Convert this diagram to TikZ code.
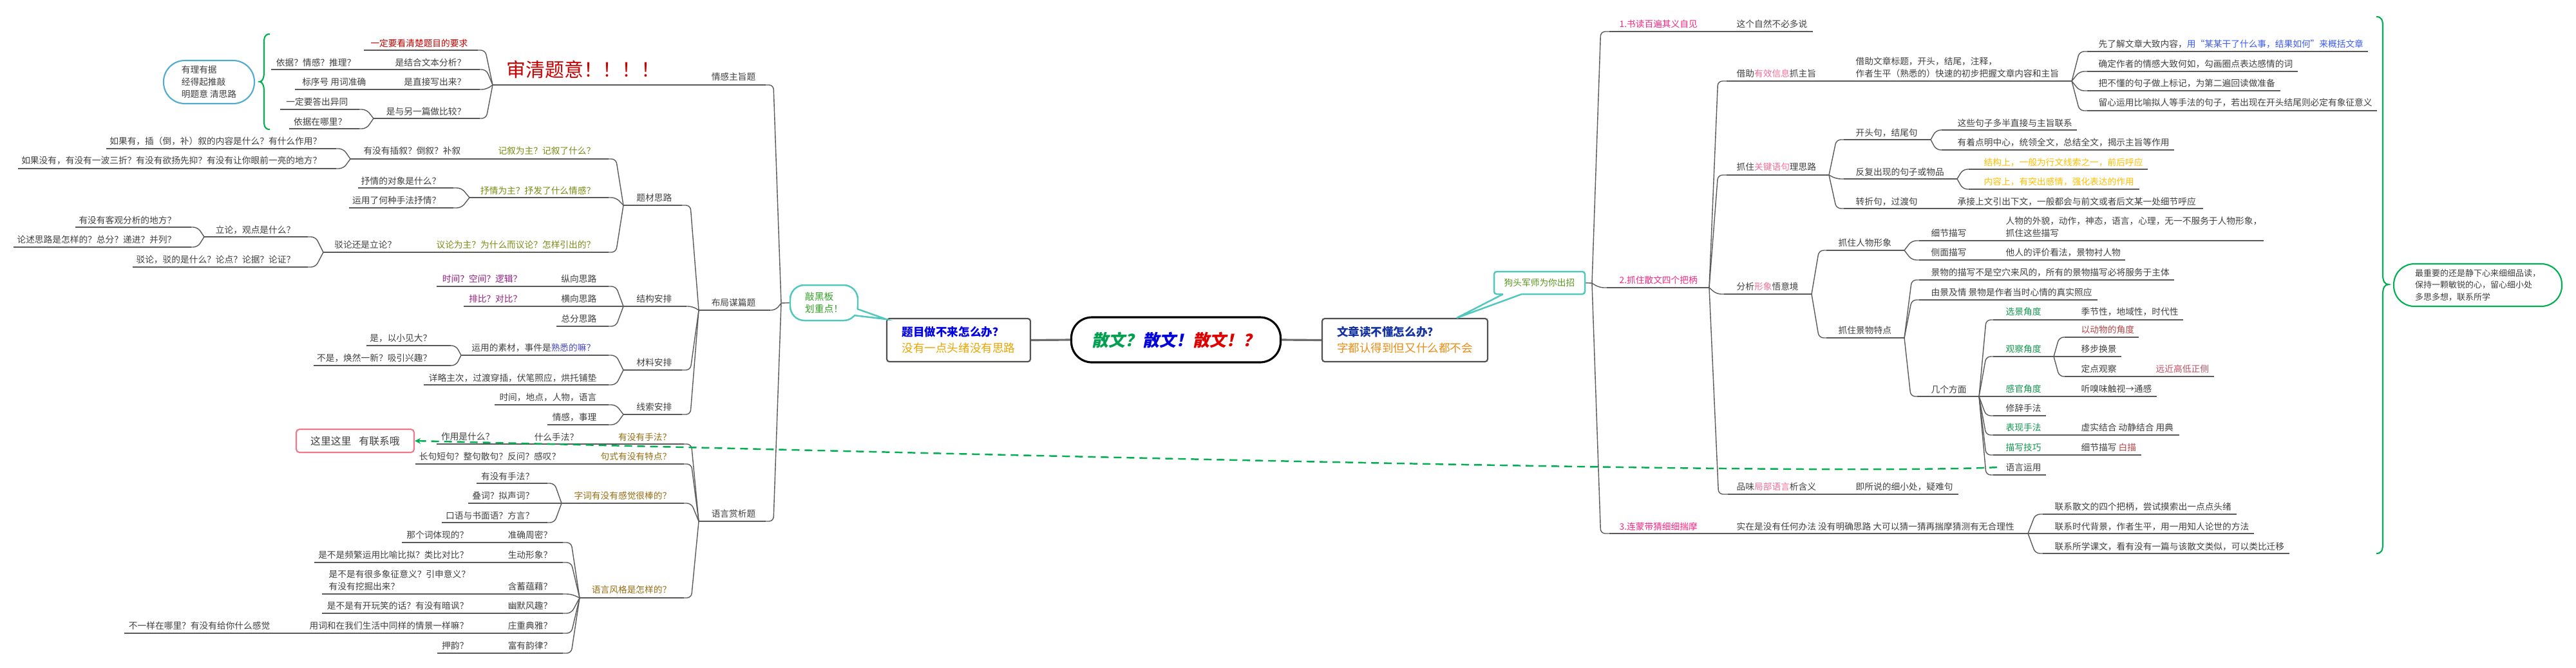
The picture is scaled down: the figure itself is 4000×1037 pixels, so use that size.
\documentclass[tikz,border=0pt]{standalone}
\usepackage{fontspec}
\setmainfont{Noto Sans CJK SC}
\newfontfamily\cjkslant[FakeSlant=0.2]{Noto Sans CJK SC}
\usetikzlibrary{calc,arrows.meta}
\definecolor{txt}{RGB}{64,64,64}
\definecolor{ln}{RGB}{90,90,90}
\definecolor{pinkA}{RGB}{245,40,130}
\definecolor{pinkB}{RGB}{245,110,150}
\definecolor{olive}{RGB}{120,140,20}
\definecolor{purp}{RGB}{150,30,130}
\definecolor{gold}{RGB}{150,110,20}
\definecolor{kgreen}{RGB}{20,150,80}
\definecolor{yel}{RGB}{255,190,0}
\definecolor{blueA}{RGB}{60,90,240}
\definecolor{blueB}{RGB}{70,70,190}
\definecolor{brred}{RGB}{180,70,70}
\definecolor{rosered}{RGB}{190,80,100}
\definecolor{redA}{RGB}{200,0,0}
\definecolor{tealB}{RGB}{80,200,190}
\definecolor{grn}{RGB}{0,176,80}
\definecolor{bubblue}{RGB}{80,170,210}
\definecolor{cgreen}{RGB}{0,160,80}
\definecolor{cblue}{RGB}{0,0,220}
\definecolor{cred}{RGB}{220,0,0}
\definecolor{qblue}{RGB}{0,0,230}
\definecolor{qorange}{RGB}{235,165,0}
\definecolor{wblue}{RGB}{20,50,160}
\definecolor{worange}{RGB}{235,140,20}
\definecolor{pinkbox}{RGB}{240,120,140}
\definecolor{bubgreen}{RGB}{50,160,40}
\definecolor{bubgreenB}{RGB}{90,150,30}
\definecolor{boxgray}{RGB}{80,80,80}
\definecolor{trunkgray}{RGB}{110,110,110}
\tikzset{
  conn/.style={draw=ln,line width=0.4pt,rounded corners=0.7mm},
  tx/.style={inner sep=0pt,text=txt,font=\fontsize{3.9}{5.4}\selectfont},
  qbox/.style={draw=boxgray,line width=0.6pt,rounded corners=0.4mm,fill=white,inner sep=0pt,align=left,font=\fontsize{5}{7.1}\selectfont},
  trunk/.style={draw=trunkgray,line width=0.9pt},
  relline/.style={draw=grn,line width=0.7pt,dash pattern=on 1.2mm off 0.8mm},
  bracestyle/.style={draw=grn,line width=0.6pt},
}
\newcommand\topic[4]{\coordinate (#1-s) at (#2,#4);\coordinate (#1-e) at (#3,#4);\draw[conn] (#1-s) -- (#1-e);}
\newcommand\link[2]{\draw[conn] let \p1=(#1-e),\p2=(#2-s) in (\p1) -- ({0.5*\x1+0.5*\x2},\y2) -- (\p2);}
\newcommand\tR[5][]{\node[tx,anchor=west,#1] (#2) at (#3,#4) {#5};}
\newcommand\tL[5][]{\node[tx,anchor=east,#1] (#2) at (#3,#4) {#5};}
\begin{document}
\begin{tikzpicture}[x=0.1mm,y=-0.1mm]
\fill[white] (0,0) rectangle (4000,1037);
\useasboundingbox (0,0) rectangle (4000,1037);

% ---------------- centre ----------------
\node[draw=black,line width=0.9pt,rounded corners=3.2mm,minimum width=32.5mm,minimum height=7mm,inner sep=0pt,fill=white,font=\fontsize{7.4}{8}\selectfont\cjkslant\bfseries] (root) at (1826,528) {\textcolor{cgreen}{散文？}\textcolor{cblue}{散文！}\textcolor{cred}{散文！？}};
\node[qbox,minimum width=22.3mm,minimum height=6.7mm] (lq) at (1488.5,528.5) {\textcolor{qblue}{\bfseries 题目做不来怎么办？}\\\textcolor{qorange}{没有一点头绪没有思路}};
\node[qbox,minimum width=25.7mm,minimum height=6.7mm] (rq) at (2181.5,528.5) {\textcolor{wblue}{\bfseries 文章读不懂怎么办？}\\\textcolor{worange}{字都认得到但又什么都不会}};
\draw[trunk] (root.west) -- (lq.east);
\draw[trunk] (root.east) -- (rq.west);

% left callout
\node[draw=tealB,line width=0.7pt,rounded corners=2.2mm,minimum width=10.5mm,minimum height=5.5mm,fill=white,inner sep=0pt,align=left,text=bubgreen,font=\fontsize{4.2}{5.2}\selectfont] (qhb) at (1279.5,470.5) {敲黑板\\划重点！};
\fill[white] (1331,480) -- (1376,496) -- (1326,490) -- (1320,484) -- cycle;
\draw[tealB,line width=0.7pt] (1331,480) -- (1376,496) -- (1326,490);
% right callout
\node[draw=tealB,line width=0.7pt,rounded corners=0.4mm,minimum width=14.1mm,minimum height=3.5mm,fill=white,inner sep=0pt,text=bubgreenB,font=\fontsize{3.9}{5}\selectfont] (gtjs) at (2390.5,439.5) {狗头军师为你出招};
\fill[white] (2334,454) -- (2333,459) -- (2262,494) -- (2363,459) -- (2363,454) -- cycle;
\draw[tealB,line width=0.7pt] (2334,457) -- (2262,494) -- (2363,457);

% ---------------- left side ----------------
\coordinate (LF-e) at (1213,471);
\draw[conn] (LF-e) -- (qhb.west);
\topic{A1}{1189}{765}{132} \link{LF}{A1} \tL{t-A1}{1174}{119}{情感主旨题}
\node[inner sep=0pt,text=redA,font=\fontsize{8.5}{9}\selectfont] (sqty) at (906,108) {审清题意！！！！};
\topic{a11}{742}{565}{78} \link{A1}{a11} \tL[text=redA]{t-a11}{727}{67}{一定要看清楚题目的要求}
\topic{a12}{745}{600}{108} \link{A1}{a12} \tL{t-a12}{724}{97}{是结合文本分析？}
\topic{a121}{600}{421}{108} \tL{t-a121}{553}{97}{依据？情感？推理？}
\topic{a13}{745}{600}{139} \link{A1}{a13} \tL{t-a13}{724}{127}{是直接写出来？}
\topic{a131}{600}{458}{139} \tL{t-a131}{569}{127}{标序号 用词准确}
\topic{a14}{745}{580}{184} \link{A1}{a14} \tL{t-a14}{724}{173}{是与另一篇做比较？}
\topic{a141}{558}{435}{170} \link{a14}{a141} \tL{t-a141}{541}{158}{一定要答出异同}
\topic{a142}{558}{449}{200} \link{a14}{a142} \tL{t-a142}{539}{189}{依据在哪里？}

\node[draw=bubblue,line width=0.6pt,rounded corners=3.3mm,minimum width=14.1mm,minimum height=6.7mm,inner sep=0pt,align=left,text=txt,font=\fontsize{3.9}{5.4}\selectfont] (lyj) at (324.5,127.5) {有理有据\\经得起推敲\\明题意 清思路};
\draw[bracestyle] (419,53) .. controls (411,53) and (410,58) .. (410,68) -- (410,112) .. controls (410,122) and (407,127) .. (403,127) .. controls (407,127) and (410,132) .. (410,142) -- (410,186) .. controls (410,196) and (411,201) .. (419,201);

\topic{A2}{1196}{1085}{482} \link{LF}{A2} \tL{t-A2}{1174}{470}{布局谋篇题}
\topic{A21}{1059}{968}{319} \link{A2}{A21} \tL{t-A21}{1044}{307}{题材思路}
\topic{b1}{945}{740}{247} \link{A21}{b1} \tL[text=olive]{t-b1}{925}{234}{记叙为主？记叙了什么？}
\topic{b11}{740}{544}{247} \tL{t-b11}{716}{234}{有没有插叙？倒叙？补叙}
\topic{b111}{522}{165}{231} \link{b11}{b111} \tL{t-b111}{500}{219}{如果有，插（倒，补）叙的内容是什么？有什么作用？}
\topic{b112}{522}{28}{262} \link{b11}{b112} \tL{t-b112}{500}{249}{如果没有，有没有一波三折？有没有欲扬先抑？有没有让你眼前一亮的地方？}
\topic{b2}{945}{729}{307} \link{A21}{b2} \tL[text=olive]{t-b2}{925}{296}{抒情为主？抒发了什么情感？}
\topic{b21}{704}{556}{292} \link{b2}{b21} \tL{t-b21}{685}{281}{抒情的对象是什么？}
\topic{b22}{704}{542}{323} \link{b2}{b22} \tL{t-b22}{685}{311}{运用了何种手法抒情？}
\topic{b3}{945}{640}{392} \link{A21}{b3} \tL[text=olive]{t-b3}{925}{380}{议论为主？为什么而议论？怎样引出的？}
\topic{b31}{640}{502}{392} \tL{t-b31}{616}{380}{驳论还是立论？}
\topic{b311}{478}{317}{368} \link{b31}{b311} \tL{t-b311}{459}{357}{立论，观点是什么？}
\topic{b3111}{297}{117}{353} \link{b311}{b3111} \tL{t-b3111}{274}{342}{有没有客观分析的地方？}
\topic{b3112}{297}{21}{384} \link{b311}{b3112} \tL{t-b3112}{274}{372}{论述思路是怎样的？总分？递进？并列？}
\topic{b312}{478}{206}{415} \link{b31}{b312} \tL{t-b312}{459}{403}{驳论，驳的是什么？论点？论据？论证？}

\topic{A22}{1066}{968}{476} \link{A2}{A22} \tL{t-A22}{1044}{464}{结构安排}
\topic{c1}{945}{840}{445} \link{A22}{c1} \tL{t-c1}{927}{433}{纵向思路}
\topic{c11}{840}{678}{445} \tL[text=purp]{t-c11}{811}{433}{时间？空间？逻辑？}
\topic{c2}{968}{840}{476} \tL{t-c2}{927}{464}{横向思路}
\topic{c21}{840}{720}{476} \tL[text=purp]{t-c21}{811}{464}{排比？对比？}
\topic{c3}{945}{864}{507} \link{A22}{c3} \tL{t-c3}{927}{495}{总分思路}

\topic{A23}{1059}{968}{575} \link{A2}{A23} \tL{t-A23}{1044}{563}{材料安排}
\topic{d1}{945}{716}{552} \link{A23}{d1} \tL{t-d1}{925}{540}{运用的素材，事件是\textcolor{blueB}{熟悉的嘛？}}
\topic{d11}{700}{569}{537} \link{d1}{d11} \tL{t-d11}{671}{525}{是，以小见大？}
\topic{d12}{700}{487}{568} \link{d1}{d12} \tL{t-d12}{671}{556}{不是，焕然一新？吸引兴趣？}
\topic{d2}{945}{658}{598} \link{A23}{d2} \tL{t-d2}{927}{587}{详略主次，过渡穿插，伏笔照应，烘托铺垫}

\topic{A24}{1059}{968}{644} \link{A2}{A24} \tL{t-A24}{1044}{632}{线索安排}
\topic{e1}{945}{768}{629} \link{A24}{e1} \tL{t-e1}{927}{617}{时间，地点，人物，语言}
\topic{e2}{945}{850}{660} \link{A24}{e2} \tL{t-e2}{927}{648}{情感，事理}

\topic{A3}{1189}{1085}{810} \link{LF}{A3} \tL{t-A3}{1174}{798}{语言赏析题}
\topic{f1}{1062}{940}{690} \link{A3}{f1} \tL[text=gold]{t-f1}{1043}{679}{有没有手法？}
\topic{f11}{940}{810}{690} \tL{t-f11}{899}{679}{什么手法？}
\topic{f111}{810}{678}{690} \tL{t-f111}{768}{678}{作用是什么？}
\topic{f2}{1062}{880}{721} \link{A3}{f2} \tL[text=gold]{t-f2}{1043}{709}{句式有没有特点？}
\topic{f21}{880}{645}{721} \tL{t-f21}{871}{709}{长句短句？整句散句？反问？感叹？}
\topic{f3}{1062}{872}{782} \link{A3}{f3} \tL[text=gold]{t-f3}{1043}{770}{字词有没有感觉很棒的？}
\topic{f31}{850}{740}{751} \link{f3}{f31} \tL{t-f31}{830}{740}{有没有手法？}
\topic{f32}{872}{727}{782} \tL{t-f32}{830}{770}{叠词？拟声词？}
\topic{f33}{850}{686}{812} \link{f3}{f33} \tL{t-f33}{830}{801}{口语与书面语？方言？}
\topic{f4}{1062}{900}{929} \link{A3}{f4} \tL[text=gold]{t-f4}{1043}{916}{语言风格是怎样的？}
\topic{g1}{874}{760}{843} \link{f4}{g1} \tL{t-g1}{858}{831}{准确周密？}
\topic{g11}{760}{624}{843} \tL{t-g11}{728}{831}{那个词体现的？}
\topic{g2}{874}{760}{874} \link{f4}{g2} \tL{t-g2}{858}{862}{生动形象？}
\topic{g21}{760}{488}{874} \tL{t-g21}{728}{862}{是不是频繁运用比喻比拟？类比对比？}
\topic{g3}{874}{760}{923} \link{f4}{g3} \tL{t-g3}{858}{911}{含蓄蕴藉？}
\topic{g31}{760}{500}{923} \tR[align=left]{t-g31}{510}{902}{是不是有很多象征意义？引申意义？\\有没有挖掘出来？}
\topic{g4}{874}{760}{953} \link{f4}{g4} \tL{t-g4}{858}{941}{幽默风趣？}
\topic{g41}{760}{500}{953} \tL{t-g41}{728}{941}{是不是有开玩笑的话？有没有暗讽？}
\topic{g5}{874}{760}{984} \link{f4}{g5} \tL{t-g5}{858}{972}{庄重典雅？}
\topic{g51}{760}{440}{984} \tL{t-g51}{728}{972}{用词和在我们生活中同样的情景一样嘛？}
\topic{g511}{440}{193}{984} \tL{t-g511}{420}{972}{不一样在哪里？有没有给你什么感觉}
\topic{g6}{874}{760}{1015} \link{f4}{g6} \tL{t-g6}{858}{1003}{富有韵律？}
\topic{g61}{760}{679}{1015} \tL{t-g61}{728}{1003}{押韵？}

\node[draw=pinkbox,line width=0.6pt,rounded corners=0.5mm,minimum width=18.3mm,minimum height=3.6mm,inner sep=0pt,fill=white,text=txt,font=\fontsize{4.5}{5}\selectfont] (lian) at (551.5,685) {这里这里\hspace{1.2mm}有联系哦};

% ---------------- right side ----------------
\coordinate (RF-e) at (2472,440);
\draw[conn] (gtjs.east) -- (RF-e);
\topic{B1}{2499}{2681}{49} \link{RF}{B1} \tR[text=pinkA]{t-B1}{2514}{37}{1.书读百遍其义自见}
\topic{B11}{2681}{2815}{49} \tR{t-B11}{2696}{37}{这个自然不必多说}
\topic{B2}{2495}{2654}{447} \link{RF}{B2} \tR[text=pinkA]{t-B2}{2514}{435}{2.抓住散文四个把柄}
\topic{h1}{2681}{2866}{126} \link{B2}{h1} \tR{t-h1}{2696}{114}{借助\textcolor{pinkB}{有效信息}抓主旨}
\topic{h11}{2866}{3217}{126} \tR[align=left]{t-h11}{2881}{104.5}{借助文章标题，开头，结尾，注释，\\作者生平（熟悉的）快速的初步把握文章内容和主旨}
\topic{h111}{3241}{3677}{80} \link{h11}{h111} \tR{t-h111}{3258}{68}{先了解文章大致内容，\textcolor{blueA}{用“某某干了什么事，结果如何”来概括文章}}
\topic{h112}{3241}{3568}{111} \link{h11}{h112} \tR{t-h112}{3258}{99}{确定作者的情感大致何如，勾画圈点表达感情的词}
\topic{h113}{3241}{3541}{141} \link{h11}{h113} \tR{t-h113}{3258}{129}{把不懂的句子做上标记，为第二遍回读做准备}
\topic{h114}{3241}{3691}{172} \link{h11}{h114} \tR{t-h114}{3258}{159}{留心运用比喻拟人等手法的句子，若出现在开头结尾则必定有象征意义}
\topic{h2}{2681}{2840}{272} \link{B2}{h2} \tR{t-h2}{2696}{259}{抓住\textcolor{pinkB}{关键语句}理思路}
\topic{h21}{2863}{2998}{217} \link{h2}{h21} \tR{t-h21}{2881}{206}{开头句，结尾句}
\topic{h211}{3015}{3225}{202} \link{h21}{h211} \tR{t-h211}{3039}{191}{这些句子多半直接与主旨联系}
\topic{h212}{3015}{3376}{233} \link{h21}{h212} \tR{t-h212}{3039}{221}{有着点明中心，统领全文，总结全文，揭示主旨等作用}
\topic{h22}{2863}{3039}{278} \link{h2}{h22} \tR{t-h22}{2881}{267}{反复出现的句子或物品}
\topic{h221}{3057}{3335}{263} \link{h22}{h221} \tR[text=yel]{t-h221}{3080}{252}{结构上，一般为行文线索之一，前后呼应}
\topic{h222}{3057}{3322}{294} \link{h22}{h222} \tR[text=yel]{t-h222}{3080}{282}{内容上，有突出感情，强化表达的作用}
\topic{h23}{2863}{3020}{324} \link{h2}{h23} \tR{t-h23}{2881}{313}{转折句，过渡句}
\topic{h231}{3020}{3421}{324} \tR{t-h231}{3039}{313}{承接上文引出下文，一般都会与前文或者后文某一处细节呼应}
\topic{h3}{2677}{2813}{457} \link{B2}{h3} \tR{t-h3}{2696}{445}{分析\textcolor{pinkB}{形象}悟意境}
\topic{h31}{2836}{2957}{389} \link{h3}{h31} \tR{t-h31}{2854}{377}{抓住人物形象}
\topic{h311}{2980}{3095}{374} \link{h31}{h311} \tR{t-h311}{2998}{362}{细节描写}
\topic{h3111}{3095}{3515}{374} \tR[align=left]{t-h3111}{3114}{352.5}{人物的外貌，动作，神态，语言，心理，无一不服务于人物形象，\\抓住这些描写}
\topic{h312}{2980}{3095}{404} \link{h31}{h312} \tR{t-h312}{2998}{392}{侧面描写}
\topic{h3121}{3095}{3300}{404} \tR{t-h3121}{3114}{392}{他人的评价看法，景物衬人物}
\topic{h32}{2836}{2957}{525} \link{h3}{h32} \tR{t-h32}{2854}{513}{抓住景物特点}
\topic{h321}{2980}{3376}{435} \link{h32}{h321} \tR{t-h321}{2998}{423}{景物的描写不是空穴来风的，所有的景物描写必将服务于主体}
\topic{h322}{2980}{3257}{466} \link{h32}{h322} \tR{t-h322}{2998}{454}{由景及情 景物是作者当时心情的真实照应}
\topic{h323}{2977}{3073}{616} \link{h32}{h323} \tR{t-h323}{2998}{605}{几个方面}
\topic{k1}{3095}{3216}{497} \link{h323}{k1} \tR[text=kgreen]{t-k1}{3114}{484}{选景角度}
\topic{k11}{3216}{3390}{497} \tR{t-k11}{3231}{484}{季节性，地域性，时代性}
\topic{k2}{3095}{3189}{554} \link{h323}{k2} \tR[text=kgreen]{t-k2}{3114}{542}{观察角度}
\topic{k21}{3206}{3321}{524} \link{k2}{k21} \tR[text=brred]{t-k21}{3231}{512}{以动物的角度}
\topic{k22}{3189}{3294}{554} \tR{t-k22}{3231}{542}{移步换景}
\topic{k23}{3206}{3330}{585} \link{k2}{k23} \tR{t-k23}{3231}{573}{定点观察}
\topic{k231}{3330}{3438}{585} \tR[text=rosered]{t-k231}{3347}{573}{远近高低正侧}
\topic{k3}{3073}{3216}{616} \tR[text=kgreen]{t-k3}{3114}{604}{感官角度}
\topic{k31}{3216}{3349}{616} \tR{t-k31}{3231}{604}{听嗅味触视→通感}
\topic{k4}{3095}{3177}{646} \link{h323}{k4} \tR{t-k4}{3114}{634}{修辞手法}
\topic{k5}{3095}{3216}{676} \link{h323}{k5} \tR[text=kgreen]{t-k5}{3114}{664}{表现手法}
\topic{k51}{3216}{3384}{676} \tR{t-k51}{3231}{664}{虚实结合 动静结合 用典}
\topic{k6}{3095}{3216}{707} \link{h323}{k6} \tR[text=kgreen]{t-k6}{3114}{695}{描写技巧}
\topic{k61}{3216}{3325}{707} \tR{t-k61}{3231}{695}{细节描写 \textcolor{brred}{白描}}
\topic{k7}{3095}{3177}{738} \link{h323}{k7} \tR{t-k7}{3114}{726}{语言运用}
\topic{h4}{2683}{2866}{768} \link{B2}{h4} \tR{t-h4}{2696}{756}{品味\textcolor{pinkB}{局部语言}析含义}
\topic{h41}{2866}{3041}{768} \tR{t-h41}{2881}{756}{即所说的细小处，疑难句}
\topic{B3}{2499}{2681}{829} \link{RF}{B3} \tR[text=pinkA]{t-B3}{2514}{818}{3.连蒙带猜细细揣摩}
\topic{B31}{2681}{3149}{829} \tR{t-B31}{2696}{818}{实在是没有任何办法 没有明确思路 大可以猜一猜再揣摩猜测有无合理性}
\topic{m1}{3172}{3473}{799} \link{B31}{m1} \tR{t-m1}{3190}{787}{联系散文的四个把柄，尝试摸索出一点点头绪}
\topic{m2}{3149}{3500}{829} \tR{t-m2}{3190}{818}{联系时代背景，作者生平，用一用知人论世的方法}
\topic{m3}{3172}{3555}{860} \link{B31}{m3} \tR{t-m3}{3190}{849}{联系所学课文，看有没有一篇与该散文类似，可以类比迁移}

\draw[bracestyle] (3690,26) .. controls (3698,26) and (3700,31) .. (3700,41) -- (3700,427) .. controls (3700,437) and (3703,442) .. (3709,442) .. controls (3703,442) and (3700,447) .. (3700,457) -- (3700,845) .. controls (3700,855) and (3698,860) .. (3690,860);
\node[draw=grn,line width=0.6pt,rounded corners=3.2mm,minimum width=26.1mm,minimum height=6.6mm,inner sep=0pt,align=left,text=txt,font=\fontsize{3.7}{5.3}\selectfont] (sum) at (3847.5,443) {最重要的还是静下心来细细品读，\\保持一颗敏锐的心，留心细小处\\多思多想，联系所学};

% relation line
\draw[relline,{Stealth[length=0.9mm,width=0.9mm]}-] (lian.east) .. controls (1500,705) and (2800,740) .. ([xshift=-1mm]t-k7.west);
\end{tikzpicture}
\end{document}
